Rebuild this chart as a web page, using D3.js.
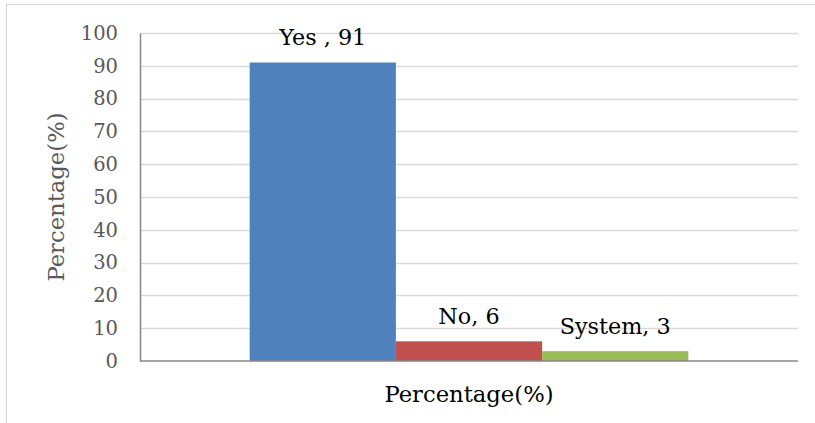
<!DOCTYPE html>
<html>
<head>
<meta charset="utf-8">
<script src="https://cdn.jsdelivr.net/npm/d3@7"></script>
<style>
  html, body { margin: 0; padding: 0; background: #fff; }
  svg { display: block; font-family: "DejaVu Serif", "Liberation Serif", serif; }
</style>
</head>
<body>
<svg id="chart" width="815" height="423"></svg>
<script>
// Survey response shares
const categories = ["Yes ", "No", "System"];
const values = [91, 6, 3];
const colors = ["#4f81bd", "#c0504d", "#9bbb59"];
const yTicks = [0, 10, 20, 30, 40, 50, 60, 70, 80, 90, 100];
const axisTitle = "Percentage(%)";

const svg = d3.select("#chart");
const margin = { left: 140, right: 17, top: 33, bottom: 62 };
const W = 815, H = 423;

// Outer chart border (only top and left fall inside the frame)
svg.append("rect")
  .attr("x", 6.5).attr("y", 4.5)
  .attr("width", W + 10).attr("height", H + 10)
  .attr("fill", "none").attr("stroke", "#d9d9d9").attr("stroke-width", 1.2);

const x = d3.scaleBand()
  .domain(categories)
  .range([margin.left, W - margin.right])
  .paddingInner(0)
  .paddingOuter(0.75);

const y = d3.scaleLinear()
  .domain([0, 100])
  .range([H - margin.bottom, margin.top]);

// Horizontal gridlines
svg.append("g")
  .selectAll("line")
  .data(yTicks.filter(d => d > 0))
  .join("line")
  .attr("x1", margin.left).attr("x2", W - margin.right)
  .attr("y1", d => Math.round(y(d)) + 0.5).attr("y2", d => Math.round(y(d)) + 0.5)
  .attr("stroke", "#d9d9d9").attr("stroke-width", 1.5);

// Y axis
const yAxis = svg.append("g")
  .attr("transform", `translate(${margin.left},0)`)
  .call(d3.axisLeft(y).tickValues(yTicks).tickSize(0).tickPadding(22));
yAxis.select(".domain").attr("stroke", "#868686").attr("stroke-width", 1.5);
yAxis.selectAll("text")
  .attr("fill", "#595959")
  .style("font-size", "19.5px")
  .style("font-family", "DejaVu Serif, serif");

// Bars
svg.append("g")
  .selectAll("rect")
  .data(categories)
  .join("rect")
  .attr("x", d => x(d))
  .attr("width", x.bandwidth())
  .attr("y", (d, i) => y(values[i]))
  .attr("height", (d, i) => y(0) - y(values[i]))
  .attr("fill", (d, i) => colors[i]);

// Baseline
svg.append("line")
  .attr("x1", margin.left).attr("x2", W - margin.right)
  .attr("y1", y(0)).attr("y2", y(0))
  .attr("stroke", "#868686").attr("stroke-width", 1.5);

// Data labels
svg.append("g")
  .selectAll("text")
  .data(categories)
  .join("text")
  .attr("x", d => x(d) + x.bandwidth() / 2)
  .attr("y", (d, i) => y(values[i]) - 17.5)
  .attr("text-anchor", "middle")
  .attr("fill", "#000")
  .style("font-size", "22.3px")
  .text((d, i) => `${d}, ${values[i]}`);

// Axis titles
svg.append("text")
  .attr("x", 469).attr("y", 402)
  .attr("text-anchor", "middle")
  .attr("fill", "#000")
  .style("font-size", "22.7px")
  .text(axisTitle);

svg.append("text")
  .attr("transform", "translate(64,197) rotate(-90)")
  .attr("text-anchor", "middle")
  .attr("fill", "#595959")
  .style("font-size", "22.7px")
  .text(axisTitle);
</script>
</body>
</html>
